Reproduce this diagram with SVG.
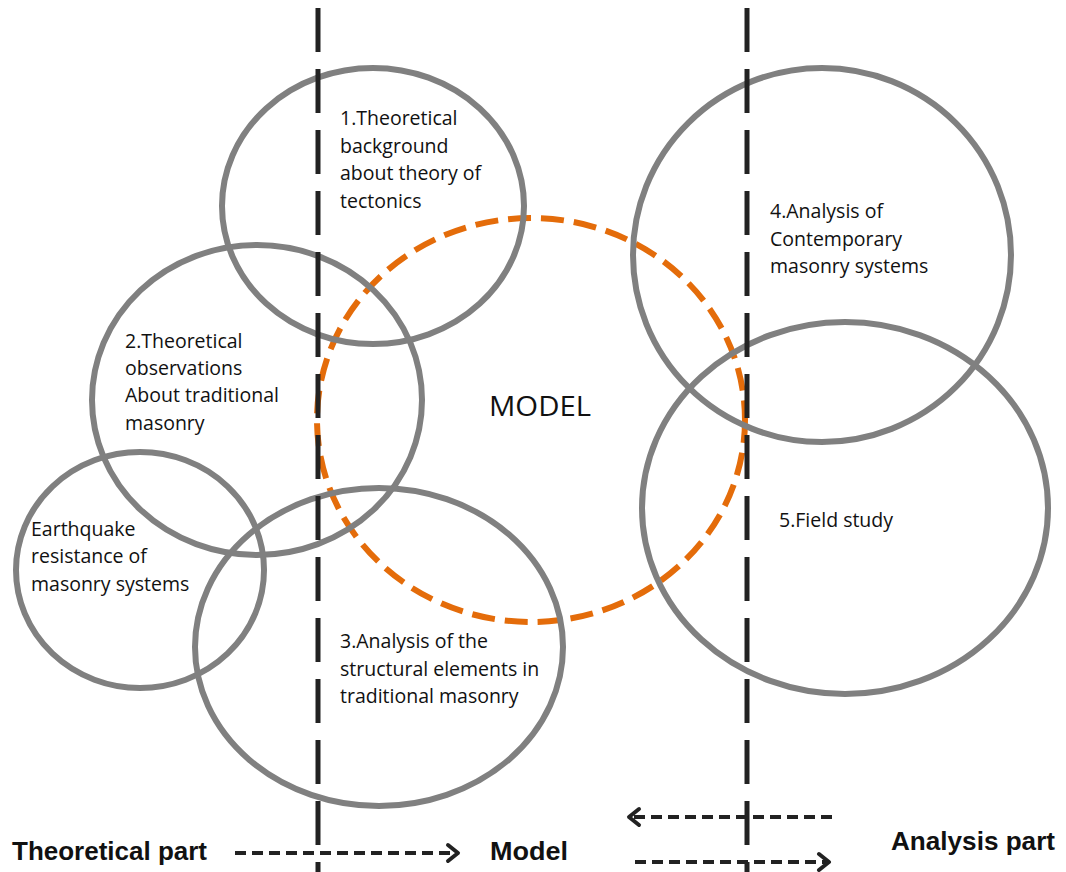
<svg xmlns="http://www.w3.org/2000/svg" width="1066" height="872" viewBox="0 0 1066 872">
  <defs>
    <style>
      .ring { fill: none; stroke: #808080; stroke-width: 6; }
      .core { fill: none; stroke: #E46C0A; stroke-width: 6; stroke-dasharray: 23 10; }
      .divider { stroke: #222; stroke-width: 5; stroke-dasharray: 44 17; fill: none; }
      .flow { stroke: #222; stroke-width: 4; stroke-dasharray: 11 6; fill: none; }
      .head { stroke: #222; stroke-width: 4; fill: none; stroke-linecap: round; stroke-linejoin: round; }
      .lbl { font-family: "Open Sans", "Noto Sans", sans-serif; font-size: 19.5px; fill: #111; }
      .big { font-family: "Open Sans", "Noto Sans", sans-serif; font-size: 28px; fill: #111; }
      .part { font-family: "Liberation Sans", Arial, sans-serif; font-weight: bold; font-size: 25px; fill: #111; }
    </style>
  </defs>

  <rect width="1066" height="872" fill="#fff"/>

  <g id="node-model">
    <ellipse class="core" cx="531" cy="420" rx="214" ry="202"/>
    <text class="big" x="489" y="416" textLength="102" lengthAdjust="spacingAndGlyphs">MODEL</text>
  </g>

  <g id="node-1">
    <ellipse class="ring" cx="373" cy="206" rx="151" ry="138"/>
    <text class="lbl">
      <tspan x="340" y="125">1.Theoretical</tspan>
      <tspan x="340" y="153">background</tspan>
      <tspan x="340" y="180">about theory of</tspan>
      <tspan x="340" y="208">tectonics</tspan>
    </text>
  </g>

  <g id="node-2">
    <ellipse class="ring" cx="257" cy="400" rx="165" ry="155"/>
    <text class="lbl">
      <tspan x="125" y="348">2.Theoretical</tspan>
      <tspan x="125" y="375">observations</tspan>
      <tspan x="125" y="402">About traditional</tspan>
      <tspan x="125" y="430">masonry</tspan>
    </text>
  </g>

  <g id="node-earthquake">
    <ellipse class="ring" cx="140" cy="570" rx="124" ry="118"/>
    <text class="lbl">
      <tspan x="31" y="536">Earthquake</tspan>
      <tspan x="31" y="563">resistance of</tspan>
      <tspan x="31" y="591">masonry systems</tspan>
    </text>
  </g>

  <g id="node-3">
    <ellipse class="ring" cx="379" cy="647" rx="184" ry="159"/>
    <text class="lbl">
      <tspan x="340" y="648">3.Analysis of the</tspan>
      <tspan x="340" y="676">structural elements in</tspan>
      <tspan x="340" y="703">traditional masonry</tspan>
    </text>
  </g>

  <g id="node-4">
    <ellipse class="ring" cx="822" cy="255" rx="189" ry="187"/>
    <text class="lbl">
      <tspan x="770" y="218">4.Analysis of</tspan>
      <tspan x="770" y="246">Contemporary</tspan>
      <tspan x="770" y="273">masonry systems</tspan>
    </text>
  </g>

  <g id="node-5">
    <ellipse class="ring" cx="845" cy="508" rx="203" ry="186"/>
    <text class="lbl" x="779" y="527">5.Field study</text>
  </g>

  <g id="connectors">
    <line class="divider" x1="318" y1="8" x2="318" y2="872"/>
    <line class="divider" x1="747" y1="8" x2="747" y2="872"/>

    <line class="flow" x1="235" y1="853" x2="456" y2="853"/>
    <polyline class="head" points="448,845 458,853 448,861"/>

    <line class="flow" x1="832" y1="817" x2="634" y2="817"/>
    <polyline class="head" points="639,809 629,817 639,825"/>

    <line class="flow" x1="635" y1="862" x2="826" y2="862"/>
    <polyline class="head" points="819,854 829,862 819,870"/>
  </g>

  <g id="captions">
    <text class="part" x="12" y="860" textLength="195" lengthAdjust="spacingAndGlyphs">Theoretical part</text>
    <text class="part" x="490" y="860" textLength="78" lengthAdjust="spacingAndGlyphs">Model</text>
    <text class="part" x="891" y="850" textLength="164" lengthAdjust="spacingAndGlyphs">Analysis  part</text>
  </g>
</svg>
